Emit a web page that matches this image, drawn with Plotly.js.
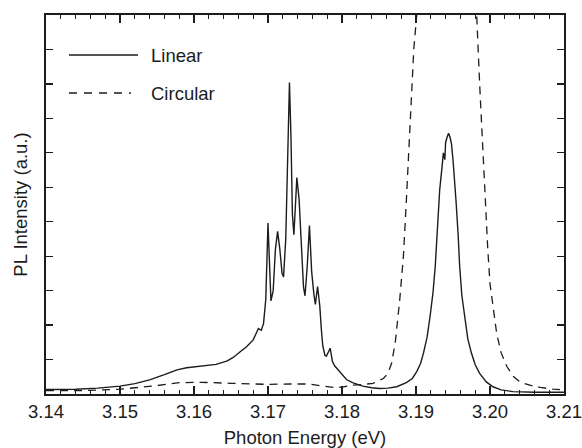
<!DOCTYPE html>
<html>
<head>
<meta charset="utf-8">
<script src="https://cdn.plot.ly/plotly-3.0.1.min.js"></script>
<style>html,body{margin:0;padding:0;background:#fff;}#chart{width:582px;height:448px;}</style>
</head>
<body>
<div id="chart"></div>
<script>
// Photon energy (eV) and PL intensity (a.u.)
const linearEnergy = [3.1400,3.1440,3.1470,3.1500,3.1520,3.1540,3.1560,3.1577,3.1590,3.1608,3.1630,3.1645,3.1653,3.1662,3.1671,3.1680,3.1687,3.1691,3.1694,3.1697,3.1699,3.1700,3.1702,3.1704,3.1707,3.1710,3.1713,3.1716,3.1719,3.1721,3.1724,3.1727,3.1729,3.1731,3.1733,3.1735,3.1737,3.1739,3.1742,3.1745,3.1748,3.1750,3.1753,3.1756,3.1759,3.1762,3.1764,3.1767,3.1770,3.1772,3.1774,3.1777,3.1779,3.1784,3.1787,3.1790,3.1795,3.1800,3.1806,3.1815,3.1828,3.1840,3.1851,3.1862,3.1874,3.1887,3.1895,3.1901,3.1906,3.1910,3.1915,3.1919,3.1923,3.1926,3.1929,3.1932,3.1935,3.1937,3.1939,3.1940,3.1942,3.1944,3.1946,3.1948,3.1950,3.1952,3.1954,3.1957,3.1959,3.1962,3.1966,3.1970,3.1975,3.1980,3.1986,3.1995,3.2004,3.2015,3.2031,3.2060,3.2100];
const linearIntensity = [0.13,0.14,0.17,0.23,0.30,0.41,0.56,0.70,0.76,0.80,0.86,0.96,1.06,1.22,1.37,1.57,1.90,1.85,2.05,2.75,4.0,4.96,3.8,2.70,3.0,4.2,4.72,4.2,3.5,3.4,4.5,7.5,9.04,7.5,5.2,4.62,5.6,6.28,5.65,4.3,3.1,2.85,3.7,4.89,3.55,2.9,2.60,3.12,2.55,1.9,1.40,1.12,1.10,1.33,0.95,0.82,0.70,0.58,0.42,0.32,0.23,0.18,0.16,0.17,0.21,0.33,0.45,0.65,0.88,1.18,1.65,2.25,2.95,3.70,4.8,5.92,6.55,7.0,6.8,7.3,7.45,7.57,7.45,7.25,6.80,6.3,5.63,4.6,3.70,2.85,2.15,1.60,1.18,0.85,0.60,0.35,0.21,0.12,0.07,0.05,0.05];

const circularEnergy = [3.1400,3.1450,3.1500,3.1545,3.1580,3.1610,3.1650,3.1700,3.1730,3.1755,3.1770,3.1790,3.1800,3.1815,3.1830,3.1842,3.1856,3.1862,3.1867,3.1872,3.1878,3.1883,3.1887,3.1890,3.1893,3.1897,3.1903,3.1910,3.1925,3.1940,3.1955,3.1970,3.1978,3.1982,3.1986,3.1990,3.1993,3.1997,3.2000,3.2005,3.2009,3.2015,3.2023,3.2032,3.2041,3.2055,3.2068,3.2085,3.2100];
const circularIntensity = [0.10,0.10,0.14,0.23,0.33,0.34,0.31,0.28,0.29,0.29,0.24,0.19,0.20,0.26,0.28,0.31,0.45,0.60,0.89,1.5,2.73,4.0,5.63,7.0,8.6,10.0,11.5,14.5,19,21,19,14.5,12,11.0,9.0,7.2,5.63,4.2,3.2,2.4,1.76,1.2,0.79,0.5,0.34,0.25,0.19,0.14,0.12];

const seriesNames = ["Linear", "Circular"];
const xTitle = "Photon Energy (eV)";
const yTitle = "PL Intensity (a.u.)";

const ink = "#1c1c1c";
const FONT = "'Liberation Sans', Arial, Helvetica, sans-serif";

const traces = [
  {x: linearEnergy, y: linearIntensity, type: "scatter", mode: "lines", name: seriesNames[0],
   line: {color: ink, width: 1.4}, showlegend: false},
  {x: circularEnergy, y: circularIntensity, type: "scatter", mode: "lines", name: seriesNames[1],
   line: {color: ink, width: 1.3, dash: "8px,6px"}, showlegend: false},
  {x: [], y: [], xaxis: "x2", yaxis: "y", type: "scatter", mode: "lines", showlegend: false, hoverinfo: "skip"}
];

const pl = 46, pr = 564, pt = 15, pb = 394;
const px = v => (v - pl) / (pr - pl);
const py = v => (pb - v) / (pb - pt);

const tickCommon = {
  range: [3.14, 3.21], tick0: 3.14, dtick: 0.01,
  ticks: "inside", ticklen: 8, tickwidth: 1.3, tickcolor: ink,
  showgrid: false, zeroline: false,
  minor: {dtick: 0.002, ticks: "inside", ticklen: 4, tickwidth: 1.2, tickcolor: ink, showgrid: false}
};

const layout = {
  width: 582, height: 448,
  margin: {l: pl, r: 582 - pr, t: pt, b: 448 - pb, pad: 0},
  paper_bgcolor: "#fff", plot_bgcolor: "#fff",
  font: {family: FONT, color: ink, size: 18},
  showlegend: false,
  xaxis: Object.assign({}, tickCommon, {
    tickformat: ".2f", ticklabeloverflow: "allow",
    showline: true, linewidth: 1.8, linecolor: ink, mirror: true,
    tickfont: {size: 18.5, family: FONT, color: ink},
    title: {text: xTitle, font: {size: 18.5, family: FONT, color: ink}, standoff: 10}
  }),
  xaxis2: Object.assign({}, tickCommon, {
    overlaying: "x", side: "top", anchor: "y",
    showticklabels: false, showline: false
  }),
  yaxis: {
    range: [0, 11], tick0: 0, dtick: 1,
    ticks: "inside", ticklen: 7, tickwidth: 1.3, tickcolor: ink,
    showticklabels: false,
    showline: true, linewidth: 1.8, linecolor: ink, mirror: "ticks",
    showgrid: false, zeroline: false,
    title: {text: yTitle, font: {size: 18.5, family: FONT, color: ink}, standoff: 12}
  },
  shapes: [
    {type: "line", xref: "paper", yref: "paper", x0: px(69), x1: px(138), y0: py(55), y1: py(55),
     line: {color: ink, width: 1.3}},
    {type: "line", xref: "paper", yref: "paper", x0: px(69), x1: px(131), y0: py(93), y1: py(93),
     line: {color: ink, width: 1.3, dash: "8px,7px"}}
  ],
  annotations: [
    {xref: "paper", yref: "paper", x: px(149), y: py(55), xanchor: "left", yanchor: "middle",
     text: seriesNames[0], showarrow: false, font: {size: 18.5, family: FONT, color: ink}},
    {xref: "paper", yref: "paper", x: px(149), y: py(93), xanchor: "left", yanchor: "middle",
     text: seriesNames[1], showarrow: false, font: {size: 18.5, family: FONT, color: ink}}
  ]
};

Plotly.newPlot("chart", traces, layout, {staticPlot: true, displayModeBar: false});
</script>
</body>
</html>
